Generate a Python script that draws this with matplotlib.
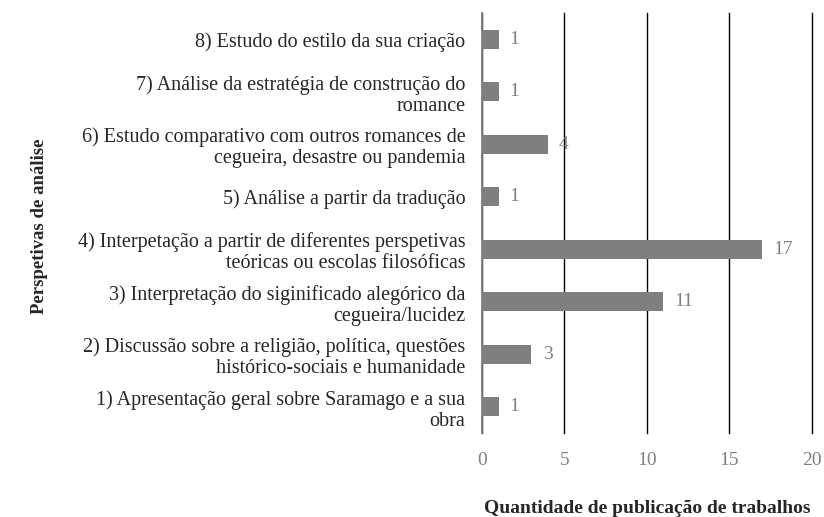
import matplotlib
matplotlib.use("Agg")
import matplotlib.pyplot as plt

categories = [
    "1) Apresentação geral sobre Saramago e a sua\nobra",
    "2) Discussão sobre a religião, política, questões\nhistórico-sociais e humanidade",
    "3) Interpretação do siginificado alegórico da\ncegueira/lucidez",
    "4) Interpetação a partir de diferentes perspetivas\nteóricas ou escolas filosóficas",
    "5) Análise a partir da tradução",
    "6) Estudo comparativo com outros romances de\ncegueira, desastre ou pandemia",
    "7) Análise da estratégia de construção do\nromance",
    "8) Estudo do estilo da sua criação",
]
values = [1, 3, 11, 17, 1, 4, 1, 1]
xticks = [0, 5, 10, 15, 20]

plt.rcParams['font.family'] = ['Liberation Serif', 'DejaVu Serif']

fig = plt.figure(figsize=(8.24, 5.17), dpi=100)
ax = fig.add_axes([0.585, 0.1625, 0.4, 0.8125])

y = list(range(len(categories)))
ax.barh(y, values, height=0.36, color='#7f7f7f', zorder=3)
ax.set_ylim(-0.5, len(categories) - 0.5)
ax.set_xlim(0, 20)
ax.set_xticks(xticks)
ax.set_xticklabels([str(t) for t in xticks], color='#808080', fontsize=14)
ax.tick_params(axis='x', length=0, pad=14)
ax.set_yticks(y)
ax.set_yticklabels(categories, fontsize=14.5, color='#262626', ha='right', linespacing=1.15)
ax.tick_params(axis='y', length=0, pad=12)
ax.grid(axis='x', color='black', linewidth=1.0, zorder=0)
for gl in ax.get_xgridlines():
    gl.set_clip_on(False)
for s in ['top', 'right', 'bottom']:
    ax.spines[s].set_visible(False)
ax.spines['left'].set_color('#808080')
ax.spines['left'].set_linewidth(1.2)
ax.spines['left'].set_zorder(4)

for yi, v in zip(y, values):
    ax.annotate(str(v), (v, yi), xytext=(8, 0), textcoords='offset points',
                va='center', ha='left', color='#808080', fontsize=14, zorder=5)

ax.set_xlabel('Quantidade de publicação de trabalhos', fontsize=14, fontweight='bold',
              color='#262626', labelpad=22)
fig.text(0.048, 0.563, 'Perspetivas de análise', rotation=90, fontsize=13.5,
         fontweight='bold', color='#262626', ha='center', va='center')

fig.savefig('out.png', dpi=100)
